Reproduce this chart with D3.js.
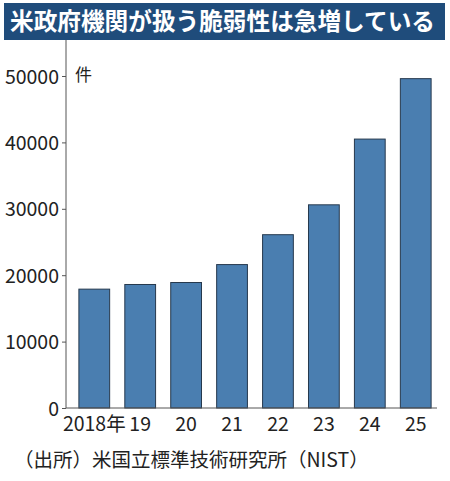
<!DOCTYPE html>
<html>
<head>
<meta charset="utf-8">
<script src="https://cdn.jsdelivr.net/npm/d3@7"></script>
<style>
  body { margin: 0; background: #fff; }
  svg text { font-family: "Noto Sans CJK JP", "Noto Sans", sans-serif; }
</style>
</head>
<body>
<svg id="chart" width="450" height="481"></svg>
<script>
var years = ['2018年', '19', '20', '21', '22', '23', '24', '25']
var counts = [17900, 18600, 18900, 21600, 26100, 30600, 40500, 49600]
var yTicks = [0, 10000, 20000, 30000, 40000, 50000]

var TITLE = '米政府機関が扱う脆弱性は急増している',
	SOURCE = '（出所）米国立標準技術研究所（NIST）',
	UNIT = '件'

var BAND_COLOR = '#1f4c7b',
	BAR_COLOR = '#4a7eb0',
	BAR_STROKE = '#26394d',
	TEXT_COLOR = '#222',
	AXIS_COLOR = '#555'

var svg = d3.select('#chart')

var x = d3.scaleBand()
	.domain(years)
	.range([72, 438])
	.paddingInner(0.33)
	.paddingOuter(0.15)

var y = d3.scaleLinear()
	.domain([0, 50000])
	.range([408, 76])

// title band
svg.append('rect')
	.attr('x', 4).attr('y', 3)
	.attr('width', 441).attr('height', 37)
	.attr('fill', BAND_COLOR)

svg.append('text')
	.attr('x', 10).attr('y', 30)
	.attr('font-size', 24)
	.attr('font-weight', 'bold')
	.attr('fill', '#fff')
	.attr('textLength', 425)
	.attr('lengthAdjust', 'spacingAndGlyphs')
	.text(TITLE)

// bars
svg.selectAll('rect.bar')
	.data(counts)
	.enter().append('rect')
		.attr('class', 'bar')
		.attr('x', function(d, i){ return x(years[i]) })
		.attr('width', x.bandwidth())
		.attr('y', function(d){ return y(d) })
		.attr('height', function(d){ return y(0) - y(d) })
		.attr('fill', BAR_COLOR)
		.attr('stroke', BAR_STROKE)
		.attr('stroke-width', 1)

// y axis
var yAxis = svg.append('g')
	.attr('transform', 'translate(66,0)')
	.call(d3.axisLeft(y).tickValues(yTicks).tickSize(4).tickPadding(3).tickFormat(d3.format('d')))

yAxis.select('.domain').remove()
yAxis.selectAll('line').attr('stroke', AXIS_COLOR)
yAxis.selectAll('text')
	.attr('font-size', 19.5)
	.attr('fill', TEXT_COLOR)
	.attr('dy', '0.36em')

svg.append('line')
	.attr('x1', 66).attr('x2', 66)
	.attr('y1', 40).attr('y2', y(0))
	.attr('stroke', AXIS_COLOR)

// x axis
var xAxis = svg.append('g')
	.attr('transform', 'translate(0,' + y(0) + ')')
	.call(d3.axisBottom(x).tickSize(0).tickPadding(7))

xAxis.select('.domain').remove()
xAxis.selectAll('text')
	.attr('font-size', 19.5)
	.attr('fill', TEXT_COLOR)
	.attr('dy', '0.8em')

svg.append('line')
	.attr('x1', 66).attr('x2', 437)
	.attr('y1', y(0)).attr('y2', y(0))
	.attr('stroke', AXIS_COLOR)

// unit
svg.append('text')
	.attr('x', 75).attr('y', 81)
	.attr('font-size', 17)
	.attr('fill', TEXT_COLOR)
	.text(UNIT)

// source
svg.append('text')
	.attr('x', 14).attr('y', 467)
	.attr('font-size', 19.5)
	.attr('fill', TEXT_COLOR)
	.text(SOURCE)
</script>
</body>
</html>
